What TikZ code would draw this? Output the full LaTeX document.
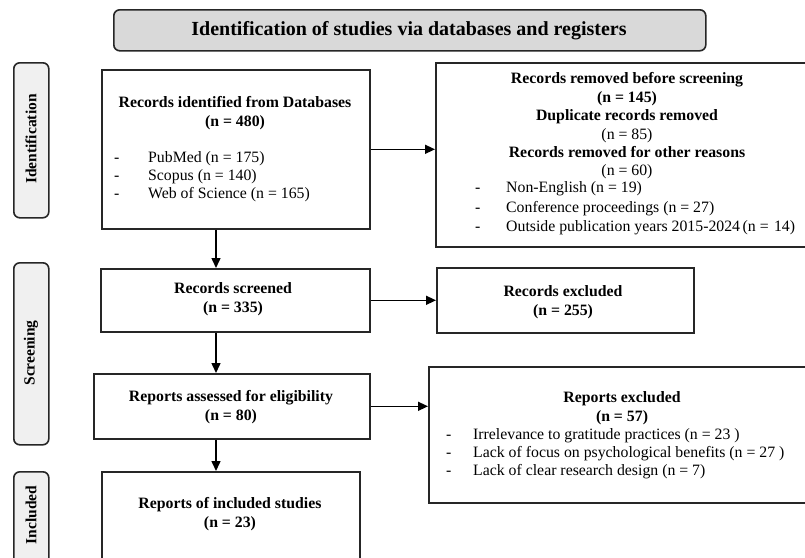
\documentclass[tikz,border=0pt]{standalone}
\usepackage{fontspec}
\setmainfont{Liberation Serif}
\usetikzlibrary{arrows.meta}
\definecolor{hdrgray}{HTML}{D9D9D9}
\definecolor{sidegray}{HTML}{F0F0F0}
\definecolor{edge}{HTML}{262626}
\begin{document}
\begin{tikzpicture}[x=1pt,y=-1pt,
  box/.style={draw=edge, line width=1.6pt, fill=white, inner sep=0pt, anchor=north west},
  sidebox/.style={draw=edge, line width=1.6pt, fill=sidegray, rounded corners=6pt, inner sep=0pt, anchor=north west, minimum width=35pt},
  hdrbox/.style={draw=edge, line width=1.6pt, fill=hdrgray, rounded corners=6pt, inner sep=0pt, anchor=north west},
  bt/.style={align=center, inner sep=0pt, font=\fontsize{15.8}{18.8}\selectfont\bfseries},
  mt/.style={align=center, inner sep=0pt, font=\fontsize{15.8}{18.4}\selectfont},
  lst/.style={anchor=west, inner sep=0pt, align=left},
  sidetxt/.style={rotate=90, inner sep=0pt, font=\fontsize{15.5}{18}\selectfont\bfseries},
  arr/.style={draw=black, line width=1.5pt, -{Triangle[length=10pt,width=9pt]}}]
\clip (0,0) rectangle (805,557);
\fill[white] (0,0) rectangle (805,557);

% header
\node[hdrbox, minimum width=592pt, minimum height=41pt] (hdr) at (113,9) {};
\node[font=\fontsize{20}{24}\selectfont\bfseries, inner sep=0pt] (hdrt) at (409,31) {Identification of studies via databases and registers};

% side labels
\node[sidebox, minimum height=155pt] (sid) at (13,62) {};
\node[sidetxt] (sidt) at (31,139) {Identification};
\node[sidebox, minimum height=182pt] (sscr) at (13,262) {};
\node[sidetxt] (sscrt) at (31,353) {Screening};
\node[sidebox, minimum height=96pt] (sinc) at (13,471) {};
\node[sidetxt] (sinct) at (31,515) {Included};

% main boxes
\node[box, minimum width=268pt, minimum height=159pt] (b1) at (101,69) {};
\node[bt] (b1t) at (235,113.5) {Records identified from Databases\\(n = 480)};
\node[lst, font=\fontsize{15.8}{18}\selectfont] (b1l) at (114,177)
  {\begin{tabular}{@{}p{34pt}@{}l@{}}-&PubMed (n = 175)\\-&Scopus (n = 140)\\-&Web of Science (n = 165)\end{tabular}};

\node[box, minimum width=380pt, minimum height=184pt] (rem) at (435,62) {};
\node[mt] (remt) at (627,126)
  {\textbf{Records removed before screening}\\\textbf{(n = 145)}\\\textbf{Duplicate records removed}\\(n = 85)\\\textbf{Records removed for other reasons}\\(n = 60)};
\node[lst, font=\fontsize{15.8}{19.5}\selectfont] (reml) at (475,208.5)
  {\begin{tabular}{@{}p{31pt}@{}l@{}}-&Non-English (n = 19)\\-&Conference proceedings (n = 27)\\-&Outside publication years 2015-2024\,(n =\,\,14)\end{tabular}};

\node[box, minimum width=269pt, minimum height=63pt] (scr) at (100,268) {};
\node[bt] (scrt) at (233,299.5) {Records screened\\(n = 335)};

\node[box, minimum width=257pt, minimum height=65pt] (exc) at (436,267) {};
\node[bt] (exct) at (563,302) {Records excluded\\(n = 255)};

\node[box, minimum width=276pt, minimum height=65pt] (ass) at (93,373) {};
\node[bt] (asst) at (231,407.5) {Reports assessed for eligibility\\(n = 80)};

\node[box, minimum width=387pt, minimum height=136pt] (rex) at (428,366) {};
\node[bt] (rext) at (622,408.5) {Reports excluded\\(n = 57)};
\node[lst, font=\fontsize{15.8}{18}\selectfont] (rexl) at (446,454)
  {\begin{tabular}{@{}p{27pt}@{}l@{}}-&Irrelevance to gratitude practices (n = 23~)\\-&Lack of focus on psychological benefits (n = 27~)\\-&Lack of clear research design (n = 7)\end{tabular}};

\node[box, minimum width=258pt, minimum height=99pt] (inc) at (101,471) {};
\node[bt] (inct) at (230,514.5) {Reports of included studies\\(n = 23)};

% connectors
\coordinate (ax) at (216,0);
\draw[arr] (b1.south -| ax) -- (scr.north -| ax);
\draw[arr] (scr.south -| ax) -- (ass.north -| ax);
\draw[arr] (ass.south -| ax) -- (inc.north -| ax);
\draw[arr] (b1.east) -- (b1.east -| rem.west);
\draw[arr] (scr.east) -- (scr.east -| exc.west);
\draw[arr] (ass.east) -- (ass.east -| rex.west);
\end{tikzpicture}
\end{document}
